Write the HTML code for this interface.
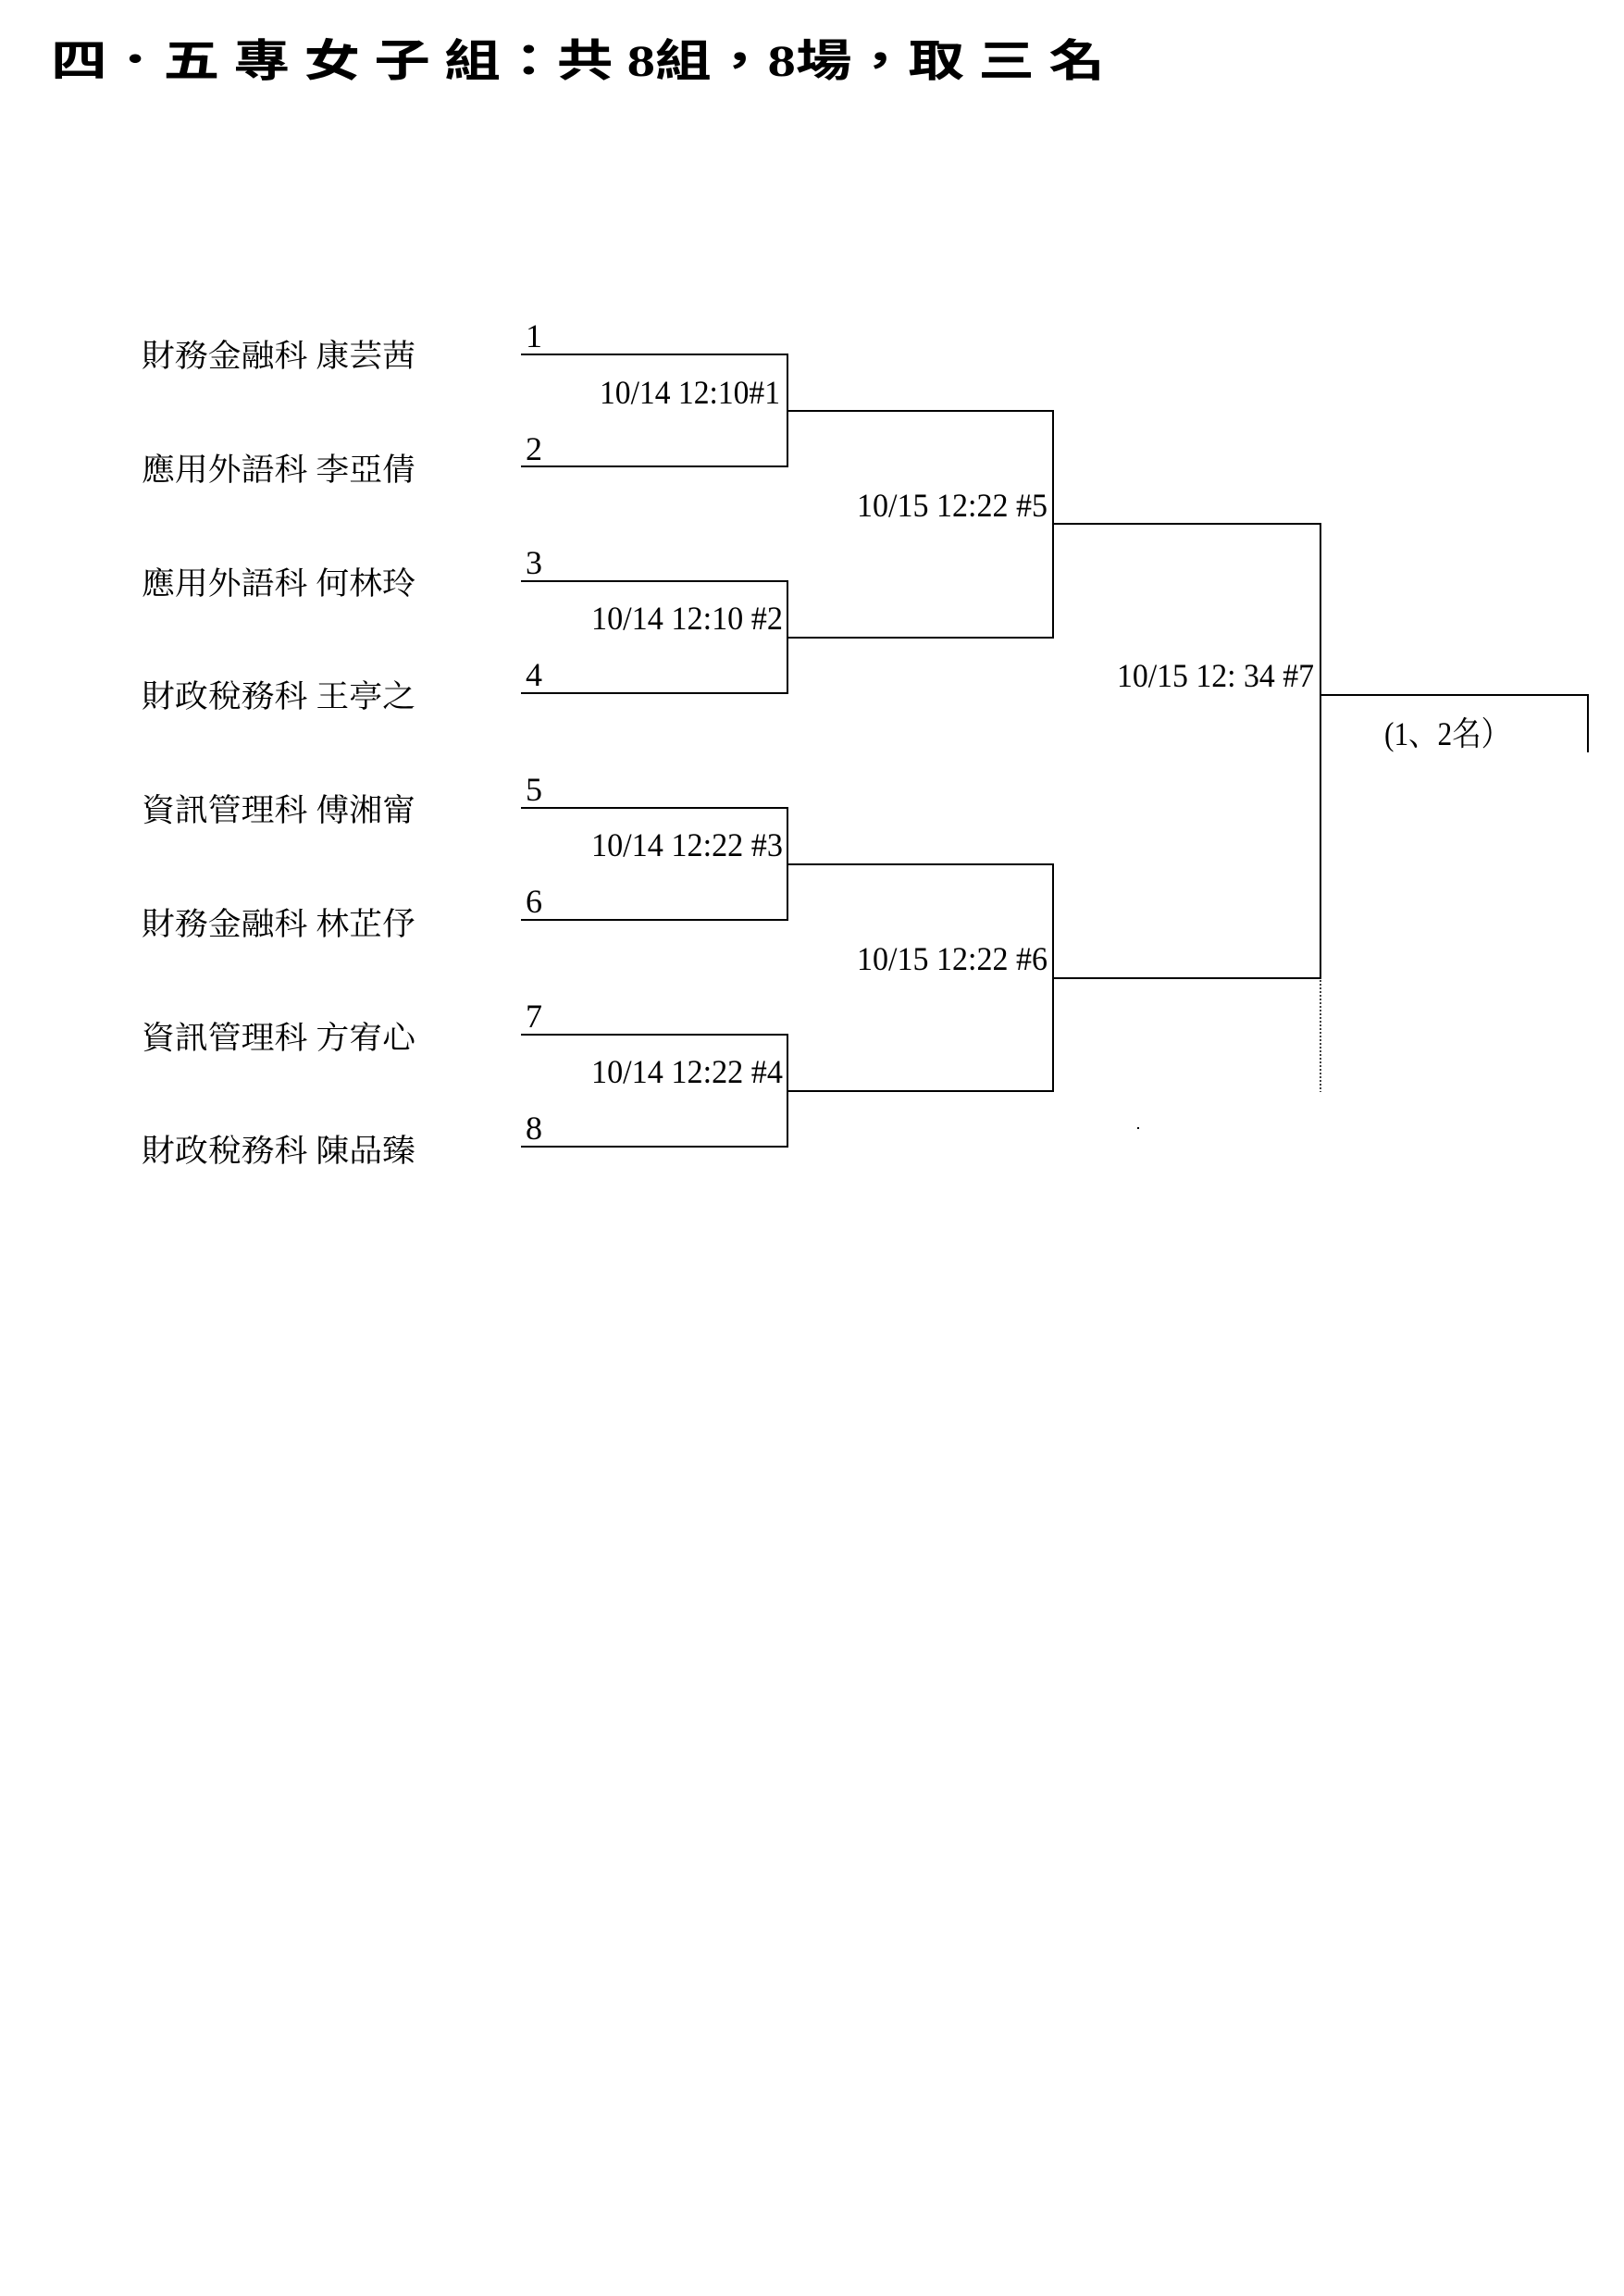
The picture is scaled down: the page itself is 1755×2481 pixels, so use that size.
<!DOCTYPE html>
<html><head><meta charset="utf-8"><style>
html,body{margin:0;padding:0;background:#fff;}
svg{display:block;}
.n{font-family:"Liberation Serif","Noto Serif CJK SC","Noto Sans CJK TC",serif;font-size:36px;fill:#000;}
.c{font-family:"Liberation Serif","Noto Serif CJK SC","Noto Sans CJK TC",serif;font-size:34px;fill:#000;}
.t{font-family:"Liberation Serif","Noto Sans CJK TC",serif;font-size:48px;font-weight:bold;fill:#000;}
</style></head><body>
<svg width="1755" height="2481" viewBox="0 0 1755 2481" xmlns="http://www.w3.org/2000/svg">
<text class="t" x="55" y="82" textLength="1139" lengthAdjust="spacingAndGlyphs">四．五 專 女 子 組：共 8組，8場，取 三 名</text>

<g class="c">
<text x="153" y="396" textLength="296" lengthAdjust="spacingAndGlyphs">財務金融科 康芸茜</text>
<text x="153" y="519" textLength="296" lengthAdjust="spacingAndGlyphs">應用外語科 李亞倩</text>
<text x="153" y="642" textLength="296" lengthAdjust="spacingAndGlyphs">應用外語科 何林玲</text>
<text x="153" y="764" textLength="296" lengthAdjust="spacingAndGlyphs">財政稅務科 王亭之</text>
<text x="153" y="887" textLength="296" lengthAdjust="spacingAndGlyphs">資訊管理科 傅湘甯</text>
<text x="153" y="1010" textLength="296" lengthAdjust="spacingAndGlyphs">財務金融科 林芷伃</text>
<text x="153" y="1133" textLength="296" lengthAdjust="spacingAndGlyphs">資訊管理科 方宥心</text>
<text x="153" y="1255" textLength="296" lengthAdjust="spacingAndGlyphs">財政稅務科 陳品臻</text>
</g>

<g class="n">
<text x="568" y="375">1</text>
<text x="568" y="497">2</text>
<text x="568" y="620">3</text>
<text x="568" y="741">4</text>
<text x="568" y="865">5</text>
<text x="568" y="986">6</text>
<text x="568" y="1110">7</text>
<text x="568" y="1231">8</text>

<text x="648" y="436" textLength="195" lengthAdjust="spacingAndGlyphs">10/14 12:10#1</text>
<text x="639" y="680" textLength="207" lengthAdjust="spacingAndGlyphs">10/14 12:10 #2</text>
<text x="639" y="925" textLength="207" lengthAdjust="spacingAndGlyphs">10/14 12:22 #3</text>
<text x="639" y="1170" textLength="207" lengthAdjust="spacingAndGlyphs">10/14 12:22 #4</text>
<text x="926" y="558" textLength="206" lengthAdjust="spacingAndGlyphs">10/15 12:22 #5</text>
<text x="926" y="1048" textLength="206" lengthAdjust="spacingAndGlyphs">10/15 12:22 #6</text>
<text x="1207" y="742" textLength="213" lengthAdjust="spacingAndGlyphs">10/15 12: 34 #7</text>
<text x="1496" y="805" textLength="136" lengthAdjust="spacingAndGlyphs">(1、2名）</text>
</g>

<g stroke="#000" stroke-width="2" fill="none">
<polyline points="563,383 851,383 851,504 563,504"/>
<polyline points="563,628 851,628 851,749 563,749"/>
<polyline points="563,873 851,873 851,994 563,994"/>
<polyline points="563,1118 851,1118 851,1239 563,1239"/>
<polyline points="851,444 1138,444 1138,689 851,689"/>
<polyline points="851,934 1138,934 1138,1179 851,1179"/>
<polyline points="1138,566 1427,566 1427,1057 1138,1057"/>
<polyline points="1427,751 1716,751 1716,813"/>
<line x1="1427" y1="1059" x2="1427" y2="1180" stroke-dasharray="2,2" stroke-width="1.5"/>
</g>
<rect x="1229" y="1218" width="2" height="2" fill="#000"/>
</svg>
</body></html>
